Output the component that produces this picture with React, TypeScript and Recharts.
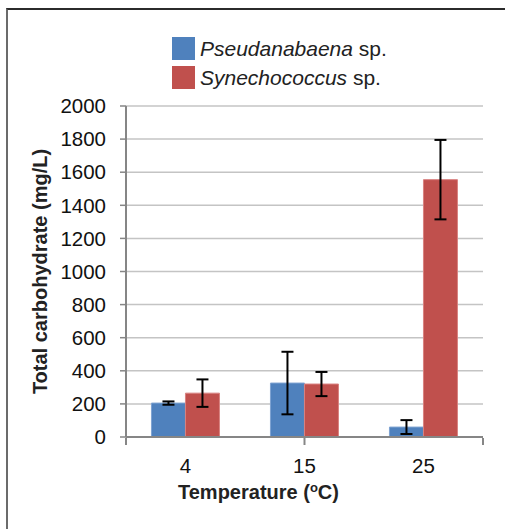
import React from "react";
import { Bar, BarChart, CartesianGrid, ErrorBar, Legend, XAxis, YAxis } from "recharts";

const temperatures = ["4", "15", "25"];
const pseudanabaena = [205, 326, 60];
const pseudanabaenaErr = [10, 189, 42];
const synechococcus = [265, 320, 1555];
const synechococcusErr = [83, 73, 240];
const yTicks = [0, 200, 400, 600, 800, 1000, 1200, 1400, 1600, 1800, 2000];
const edgeTicks = [0, 1, 2, 3];

const data = temperatures.map((t, i) => ({
  t,
  p: pseudanabaena[i],
  pErr: pseudanabaenaErr[i],
  s: synechococcus[i],
  sErr: synechococcusErr[i],
}));

const font = "'Liberation Sans', Arial, sans-serif";
const axisGray = "#868686";

function SpeciesLegend({ payload }: any) {
  return (
    <div style={{ fontFamily: font, fontSize: 21, color: "#222" }}>
      {(payload || []).map((e: any) => (
        <div key={e.value} style={{ display: "flex", alignItems: "center", height: 29 }}>
          <span style={{ width: 23, height: 23, background: e.color, marginRight: 5, display: "inline-block" }} />
          <span>
            <i>{e.value}</i> sp.
          </span>
        </div>
      ))}
    </div>
  );
}

function YTitle({ viewBox }: any) {
  const cx = 40;
  const cy = viewBox.y + viewBox.height / 2;
  return (
    <text
      x={cx}
      y={cy}
      transform={`rotate(-90 ${cx} ${cy})`}
      textAnchor="middle"
      dominantBaseline="central"
      fontFamily={font}
      fontWeight="bold"
      fontSize={20}
      fill="#222"
    >
      Total carbohydrate (mg/L)
    </text>
  );
}

function XTitle({ viewBox }: any) {
  const cx = viewBox.x + viewBox.width / 2 - 46;
  return (
    <text x={cx} y={viewBox.y + 62} textAnchor="middle" fontFamily={font} fontWeight="bold" fontSize={20} fill="#222">
      Temperature (<tspan fontSize={13} dy={-7}>o</tspan>
      <tspan dy={7}>C)</tspan>
    </text>
  );
}

export default function App() {
  return (
    <div style={{ position: "absolute", left: 0, top: 0, width: 505, height: 529, background: "#fff" }}>
      <div
        style={{
          position: "absolute",
          left: 6,
          top: 8,
          width: 499,
          height: 521,
          borderTop: "2px solid #2b2b2b",
          borderLeft: "2px solid #6b6b6b",
        }}
      />
      <BarChart
        width={505}
        height={529}
        data={data}
        margin={{ top: 106, right: 22, bottom: 90, left: 0 }}
        barCategoryGap="21.4%"
        barGap={0}
        style={{ position: "absolute", left: 0, top: 0 }}
      >
        <CartesianGrid vertical={false} stroke="#c4c4c4" strokeWidth={1.5} />
        <XAxis
          dataKey="t"
          height={1}
          tickLine={false}
          axisLine={{ stroke: axisGray, strokeWidth: 2 }}
          tick={{ fill: "#111", fontSize: 20.5, fontFamily: font }}
          tickMargin={15}
          label={<XTitle />}
        />
        <XAxis
          xAxisId="edges"
          type="number"
          domain={[0, 3]}
          ticks={edgeTicks}
          height={1}
          axisLine={false}
          tickLine={{ stroke: axisGray, strokeWidth: 2 }}
          tickSize={7}
          tickFormatter={() => ""}
        />
        <YAxis
          domain={[0, 2000]}
          ticks={yTicks}
          width={126}
          tickSize={6}
          tickMargin={14}
          interval={0}
          axisLine={{ stroke: axisGray, strokeWidth: 2 }}
          tickLine={{ stroke: axisGray, strokeWidth: 1.5 }}
          tick={{ fill: "#111", fontSize: 20.5, fontFamily: font }}
          label={<YTitle />}
        />
        <Legend
          layout="vertical"
          align="center"
          verticalAlign="middle"
          wrapperStyle={{ top: 34, left: 172, width: "auto" }}
          content={<SpeciesLegend />}
        />
        <Bar dataKey="p" name="Pseudanabaena" fill="#4f81bd" stroke="#7ea3d2" strokeWidth={1} isAnimationActive={false}>
          <ErrorBar dataKey="pErr" width={6} strokeWidth={2} stroke="#000" />
        </Bar>
        <Bar dataKey="s" name="Synechococcus" fill="#c0504d" stroke="#d98280" strokeWidth={1} isAnimationActive={false}>
          <ErrorBar dataKey="sErr" width={6} strokeWidth={2} stroke="#000" />
        </Bar>
      </BarChart>
    </div>
  );
}
